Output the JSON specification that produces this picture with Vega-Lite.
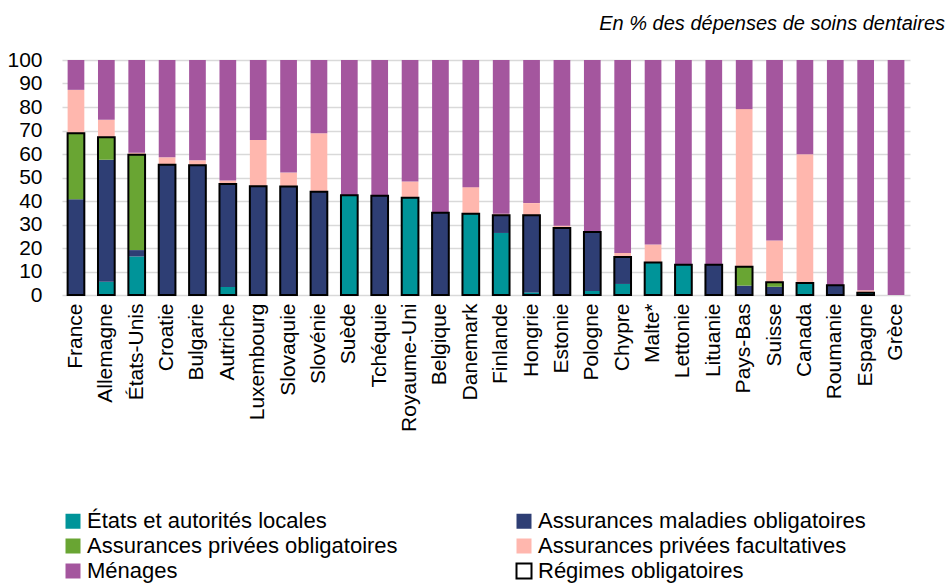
{
  "$schema": "https://vega.github.io/schema/vega-lite/v6.json",
  "autosize": {"type": "none"},
  "width": 848,
  "height": 235,
  "padding": {"left": 62, "top": 60, "right": 39, "bottom": 288},
  "background": "white",
  "config": {
    "font": "Liberation Sans",
    "view": {"stroke": null}
  },
  "title": {
    "text": "En % des dépenses de soins dentaires",
    "anchor": "end",
    "frame": "group",
    "fontStyle": "italic",
    "fontWeight": "normal",
    "fontSize": 20,
    "color": "black",
    "dx": 35,
    "offset": 15
  },
  "datasets": {
    "cats": [
      {"cat": "États et autorités locales", "rank": 1},
      {"cat": "Assurances maladies obligatoires", "rank": 2},
      {"cat": "Assurances privées obligatoires", "rank": 3},
      {"cat": "Assurances privées facultatives", "rank": 4},
      {"cat": "Ménages", "rank": 5}
    ]
  },
  "data": {
    "values": [
      {"country": "France", "cat": "Assurances maladies obligatoires", "value": 40.7},
      {"country": "France", "cat": "Assurances privées obligatoires", "value": 28.1},
      {"country": "France", "cat": "Assurances privées facultatives", "value": 18.5},
      {"country": "France", "cat": "Ménages", "value": 12.7},
      {"country": "Allemagne", "cat": "États et autorités locales", "value": 5.6},
      {"country": "Allemagne", "cat": "Assurances maladies obligatoires", "value": 52.0},
      {"country": "Allemagne", "cat": "Assurances privées obligatoires", "value": 9.5},
      {"country": "Allemagne", "cat": "Assurances privées facultatives", "value": 7.5},
      {"country": "Allemagne", "cat": "Ménages", "value": 25.4},
      {"country": "États-Unis", "cat": "États et autorités locales", "value": 16.4},
      {"country": "États-Unis", "cat": "Assurances maladies obligatoires", "value": 2.7},
      {"country": "États-Unis", "cat": "Assurances privées obligatoires", "value": 40.6},
      {"country": "États-Unis", "cat": "Assurances privées facultatives", "value": 0.8},
      {"country": "États-Unis", "cat": "Ménages", "value": 39.5},
      {"country": "Croatie", "cat": "États et autorités locales", "value": 0.4},
      {"country": "Croatie", "cat": "Assurances maladies obligatoires", "value": 55.0},
      {"country": "Croatie", "cat": "Assurances privées facultatives", "value": 3.2},
      {"country": "Croatie", "cat": "Ménages", "value": 41.4},
      {"country": "Bulgarie", "cat": "Assurances maladies obligatoires", "value": 55.2},
      {"country": "Bulgarie", "cat": "Assurances privées facultatives", "value": 2.1},
      {"country": "Bulgarie", "cat": "Ménages", "value": 42.7},
      {"country": "Autriche", "cat": "États et autorités locales", "value": 3.4},
      {"country": "Autriche", "cat": "Assurances maladies obligatoires", "value": 43.8},
      {"country": "Autriche", "cat": "Assurances privées facultatives", "value": 1.5},
      {"country": "Autriche", "cat": "Ménages", "value": 51.3},
      {"country": "Luxembourg", "cat": "Assurances maladies obligatoires", "value": 46.3},
      {"country": "Luxembourg", "cat": "Assurances privées facultatives", "value": 19.7},
      {"country": "Luxembourg", "cat": "Ménages", "value": 34.0},
      {"country": "Slovaquie", "cat": "États et autorités locales", "value": 0.4},
      {"country": "Slovaquie", "cat": "Assurances maladies obligatoires", "value": 45.8},
      {"country": "Slovaquie", "cat": "Assurances privées facultatives", "value": 5.9},
      {"country": "Slovaquie", "cat": "Ménages", "value": 47.9},
      {"country": "Slovénie", "cat": "Assurances maladies obligatoires", "value": 43.9},
      {"country": "Slovénie", "cat": "Assurances privées facultatives", "value": 24.9},
      {"country": "Slovénie", "cat": "Ménages", "value": 31.2},
      {"country": "Suède", "cat": "États et autorités locales", "value": 42.5},
      {"country": "Suède", "cat": "Ménages", "value": 57.5},
      {"country": "Tchéquie", "cat": "Assurances maladies obligatoires", "value": 42.2},
      {"country": "Tchéquie", "cat": "Ménages", "value": 57.8},
      {"country": "Royaume-Uni", "cat": "États et autorités locales", "value": 41.4},
      {"country": "Royaume-Uni", "cat": "Assurances privées facultatives", "value": 6.9},
      {"country": "Royaume-Uni", "cat": "Ménages", "value": 51.7},
      {"country": "Belgique", "cat": "Assurances maladies obligatoires", "value": 35.0},
      {"country": "Belgique", "cat": "Ménages", "value": 65.0},
      {"country": "Danemark", "cat": "États et autorités locales", "value": 34.6},
      {"country": "Danemark", "cat": "Assurances privées facultatives", "value": 11.3},
      {"country": "Danemark", "cat": "Ménages", "value": 54.1},
      {"country": "Finlande", "cat": "États et autorités locales", "value": 26.4},
      {"country": "Finlande", "cat": "Assurances maladies obligatoires", "value": 7.5},
      {"country": "Finlande", "cat": "Assurances privées facultatives", "value": 0.7},
      {"country": "Finlande", "cat": "Ménages", "value": 65.4},
      {"country": "Hongrie", "cat": "États et autorités locales", "value": 1.1},
      {"country": "Hongrie", "cat": "Assurances maladies obligatoires", "value": 32.8},
      {"country": "Hongrie", "cat": "Assurances privées facultatives", "value": 5.2},
      {"country": "Hongrie", "cat": "Ménages", "value": 60.9},
      {"country": "Estonie", "cat": "Assurances maladies obligatoires", "value": 28.5},
      {"country": "Estonie", "cat": "Assurances privées facultatives", "value": 1.0},
      {"country": "Estonie", "cat": "Ménages", "value": 70.5},
      {"country": "Pologne", "cat": "États et autorités locales", "value": 1.7},
      {"country": "Pologne", "cat": "Assurances maladies obligatoires", "value": 25.1},
      {"country": "Pologne", "cat": "Ménages", "value": 73.2},
      {"country": "Chypre", "cat": "États et autorités locales", "value": 4.7},
      {"country": "Chypre", "cat": "Assurances maladies obligatoires", "value": 11.5},
      {"country": "Chypre", "cat": "Assurances privées facultatives", "value": 1.7},
      {"country": "Chypre", "cat": "Ménages", "value": 82.1},
      {"country": "Malte*", "cat": "États et autorités locales", "value": 13.8},
      {"country": "Malte*", "cat": "Assurances privées facultatives", "value": 7.7},
      {"country": "Malte*", "cat": "Ménages", "value": 78.5},
      {"country": "Lettonie", "cat": "États et autorités locales", "value": 12.9},
      {"country": "Lettonie", "cat": "Ménages", "value": 87.1},
      {"country": "Lituanie", "cat": "Assurances maladies obligatoires", "value": 12.9},
      {"country": "Lituanie", "cat": "Ménages", "value": 87.1},
      {"country": "Pays-Bas", "cat": "États et autorités locales", "value": 0.4},
      {"country": "Pays-Bas", "cat": "Assurances maladies obligatoires", "value": 3.6},
      {"country": "Pays-Bas", "cat": "Assurances privées obligatoires", "value": 8.0},
      {"country": "Pays-Bas", "cat": "Assurances privées facultatives", "value": 67.1},
      {"country": "Pays-Bas", "cat": "Ménages", "value": 20.9},
      {"country": "Suisse", "cat": "États et autorités locales", "value": 0.4},
      {"country": "Suisse", "cat": "Assurances maladies obligatoires", "value": 3.1},
      {"country": "Suisse", "cat": "Assurances privées obligatoires", "value": 1.9},
      {"country": "Suisse", "cat": "Assurances privées facultatives", "value": 17.8},
      {"country": "Suisse", "cat": "Ménages", "value": 76.8},
      {"country": "Canada", "cat": "États et autorités locales", "value": 5.1},
      {"country": "Canada", "cat": "Assurances privées facultatives", "value": 54.8},
      {"country": "Canada", "cat": "Ménages", "value": 40.1},
      {"country": "Roumanie", "cat": "Assurances maladies obligatoires", "value": 4.2},
      {"country": "Roumanie", "cat": "Ménages", "value": 95.8},
      {"country": "Espagne", "cat": "États et autorités locales", "value": 1.0},
      {"country": "Espagne", "cat": "Assurances privées facultatives", "value": 1.0},
      {"country": "Espagne", "cat": "Ménages", "value": 98.0},
      {"country": "Grèce", "cat": "Ménages", "value": 100.0}
    ]
  },
  "encoding": {
    "x": {
      "field": "country",
      "type": "nominal",
      "sort": ["France", "Allemagne", "États-Unis", "Croatie", "Bulgarie", "Autriche", "Luxembourg", "Slovaquie", "Slovénie", "Suède", "Tchéquie", "Royaume-Uni", "Belgique", "Danemark", "Finlande", "Hongrie", "Estonie", "Pologne", "Chypre", "Malte*", "Lettonie", "Lituanie", "Pays-Bas", "Suisse", "Canada", "Roumanie", "Espagne", "Grèce"],
      "scale": {"paddingInner": 0.45, "paddingOuter": 0.185},
      "axis": {
        "title": null,
        "labelAngle": -90,
        "labelAlign": "right",
        "labelBaseline": "middle",
        "labelFontSize": 21,
        "labelColor": "black",
        "labelPadding": 8,
        "labelOverlap": false,
        "ticks": false,
        "domain": false,
        "labelLimit": 300
      }
    },
    "y": {
      "field": "value",
      "type": "quantitative",
      "scale": {"domain": [0, 100], "nice": false},
      "axis": {
        "title": null,
        "values": [0, 10, 20, 30, 40, 50, 60, 70, 80, 90, 100],
        "tickCount": 11,
        "labelFontSize": 21,
        "labelColor": "black",
        "labelPadding": 20,
        "labelOverlap": false,
        "labelFlush": false,
        "labelBound": false,
        "ticks": false,
        "domain": false,
        "grid": true,
        "gridColor": "#D9D9D9",
        "gridWidth": 1.5
      }
    }
  },
  "layer": [
    {
      "transform": [
        {"lookup": "cat", "from": {"data": {"name": "cats"}, "key": "cat", "fields": ["rank"]}}
      ],
      "mark": {"type": "bar"},
      "encoding": {
        "order": {"field": "rank", "type": "quantitative", "sort": "ascending"},
        "color": {
          "field": "cat",
          "type": "nominal",
          "scale": {
            "domain": ["États et autorités locales", "Assurances maladies obligatoires", "Assurances privées obligatoires", "Assurances privées facultatives", "Ménages", "Régimes obligatoires"],
            "range": ["#009499", "#2E3E74", "#69A533", "#FFB7AE", "#A4569E", "#FFFFFF"]
          },
          "legend": {
            "title": null,
            "orient": "none",
            "direction": "horizontal",
            "legendX": 0,
            "legendY": 450,
            "columns": 2,
            "columnPadding": 114,
            "rowPadding": 1,
            "symbolType": "square",
            "symbolSize": 225,
            "labelFontSize": 22,
            "labelColor": "black",
            "labelOffset": 3,
            "labelLimit": 500,
            "encode": {
              "symbols": {
                "update": {
                  "stroke": {"signal": "datum.label == 'Régimes obligatoires' ? 'black' : 'transparent'"},
                  "strokeWidth": {"value": 2}
                }
              }
            }
          }
        }
      }
    },
    {
      "transform": [
        {"filter": "datum.cat == 'États et autorités locales' || datum.cat == 'Assurances maladies obligatoires' || datum.cat == 'Assurances privées obligatoires'"},
        {"aggregate": [{"op": "sum", "field": "value", "as": "value"}], "groupby": ["country"]}
      ],
      "mark": {"type": "bar", "filled": false, "color": "black", "strokeWidth": 2},
      "encoding": {}
    }
  ]
}
